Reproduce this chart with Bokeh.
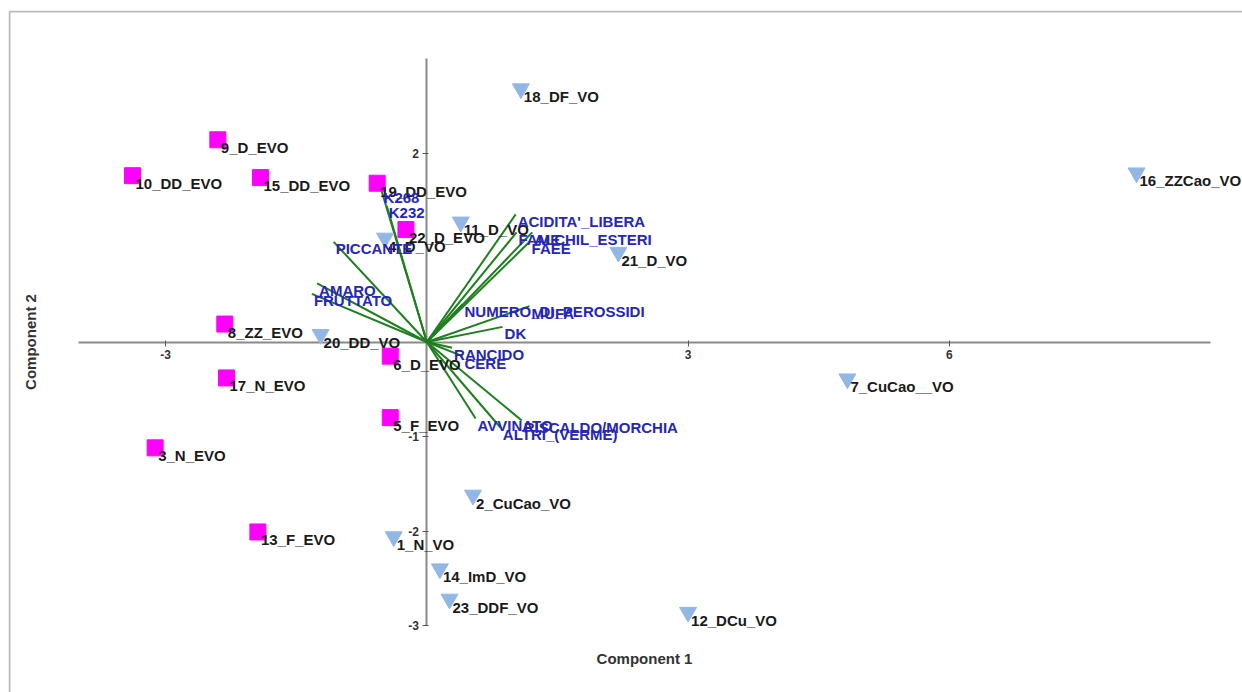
import math
from bokeh.plotting import figure
from bokeh.models import (ColumnDataSource, LabelSet, Label, FixedTicker, LinearAxis,
                          Range1d, BoxAnnotation)
from bokeh.core.properties import value
from bokeh.embed import file_html
from bokeh.resources import INLINE

# ---- data: sample scores (Component 1, Component 2) ----
evo_names = ["10_DD_EVO", "9_D_EVO", "15_DD_EVO", "19_DD_EVO", "22_D_EVO", "8_ZZ_EVO",
             "17_N_EVO", "3_N_EVO", "6_D_EVO", "5_F_EVO", "13_F_EVO"]
evo_x = [-3.38, -2.40, -1.91, -0.57, -0.24, -2.32, -2.30, -3.12, -0.42, -0.42, -1.94]
evo_y = [1.76, 2.14, 1.74, 1.68, 1.19, 0.19, -0.38, -1.12, -0.15, -0.80, -2.01]

vo_names = ["18_DF_VO", "16_ZZCao_VO", "11_D_VO", "4_D_VO", "21_D_VO", "20_DD_VO",
            "7_CuCao__VO", "2_CuCao_VO", "1_N_VO", "14_ImD_VO", "23_DDF_VO", "12_DCu_VO"]
vo_x = [1.08, 8.15, 0.39, -0.48, 2.20, -1.22, 4.83, 0.53, -0.38, 0.15, 0.26, 3.00]
vo_y = [2.68, 1.79, 1.27, 1.10, 0.95, 0.08, -0.39, -1.62, -2.06, -2.40, -2.72, -2.86]

# ---- data: variable loadings ----
var_names = ["K268", "K232", "PICCANTE", "AMARO", "FRUTTATO", "ACIDITA'_LIBERA", "FAME",
             "ALCHIL_ESTERI", "FAEE", "NUMERO_DI_PEROSSIDI", "MUFA", "DK", "RANCIDO",
             "CERE", "AVVINATO", "ALTRI_(VERME)", "RISCALDO/MORCHIA"]
var_x = [-0.52, -0.46, -1.07, -1.26, -1.32, 1.02, 1.03, 1.21, 1.18, 0.41, 1.18, 0.87,
         0.29, 0.41, 0.56, 0.85, 1.09]
var_y = [1.60, 1.44, 1.06, 0.62, 0.51, 1.35, 1.16, 1.16, 1.06, 0.40, 0.38, 0.16,
         -0.06, -0.15, -0.81, -0.91, -0.83]

x_ticks = [-3, 3, 6]
y_ticks = [-3, -2, -1, 2]
x_axis_span = (-4, 9)
y_axis_span = (-3, 3)

FONT = "Liberation Sans"

p = figure(width=1242, height=692,
           x_range=Range1d(-4.804, 9.367), y_range=Range1d(-3.709, 3.508),
           x_axis_location=None, y_axis_location=None,
           output_backend="svg", toolbar_location=None,
           min_border_left=8, min_border_right=0, min_border_top=10, min_border_bottom=0)
p.grid.visible = False
p.outline_line_color = None
p.background_fill_color = "white"
p.border_fill_color = "white"

# axes crossing at the origin
xa = LinearAxis(fixed_location=0, ticker=FixedTicker(ticks=x_ticks), bounds=x_axis_span,
                major_label_overrides={t: str(t) for t in x_ticks})
ya = LinearAxis(fixed_location=0, ticker=FixedTicker(ticks=y_ticks), bounds=y_axis_span,
                major_label_overrides={t: str(t) for t in y_ticks})
for ax in (xa, ya):
    ax.level = "underlay"
    ax.axis_line_color = "#8a8a8a"
    ax.axis_line_width = 2
    ax.major_tick_line_color = "#555555"
    ax.major_tick_in = 2
    ax.major_tick_out = 4
    ax.minor_tick_line_color = None
    ax.major_label_text_font = FONT
    ax.major_label_text_font_style = "bold"
    ax.major_label_text_font_size = "12px"
    ax.major_label_text_color = "#333333"
    ax.major_label_standoff = 4
p.add_layout(xa, "below")
p.add_layout(ya, "left")

# axis titles
p.add_layout(Label(x=sum(x_axis_span) / 2, y=y_axis_span[0], y_offset=-33, text="Component 1",
                   text_align="center", text_baseline="middle", text_font=FONT,
                   text_font_style="bold", text_font_size="15px", text_color="#333333"))
p.add_layout(Label(x=x_axis_span[0], y=sum(y_axis_span) / 2, x_offset=-48, text="Component 2",
                   angle=math.pi / 2, text_align="center", text_baseline="middle",
                   text_font=FONT, text_font_style="bold", text_font_size="15px",
                   text_color="#333333"))

# loading vectors
vsrc = ColumnDataSource(dict(x0=[0] * len(var_x), y0=[0] * len(var_y), x=var_x, y=var_y, name=var_names))
p.segment(x0="x0", y0="y0", x1="x", y1="y", source=vsrc, line_color="#1f7f1f", line_width=2)

# sample markers
esrc = ColumnDataSource(dict(x=evo_x, y=evo_y, name=evo_names))
osrc = ColumnDataSource(dict(x=vo_x, y=vo_y, name=vo_names))
p.scatter("x", "y", source=osrc, marker="inverted_triangle", size=17,
          fill_color="#93b7e5", line_color="#93b7e5")
p.scatter("x", "y", source=esrc, marker="square", size=16,
          fill_color="#ff00ff", line_color="#ff00ff")

for src in (esrc, osrc):
    p.add_layout(LabelSet(x="x", y="y", text="name", source=src, x_offset=3, y_offset=-8,
                          text_baseline="middle", text_align="left", text_font=value(FONT),
                          text_font_style="bold", text_font_size="15px",
                          text_color="#1a1a1a"))

p.add_layout(LabelSet(x="x", y="y", text="name", source=vsrc, x_offset=2, y_offset=-7,
                      text_baseline="middle", text_align="left", text_font=value(FONT),
                      text_font_style="bold", text_font_size="15px",
                      text_color="#2626b8"))

# outer frame of the picture
p.add_layout(BoxAnnotation(left=9, right=1400, top=11, bottom=1000,
                           left_units="canvas", right_units="canvas",
                           top_units="canvas", bottom_units="canvas",
                           fill_alpha=0, line_color="#1a1a1a", line_width=2))

open("out.html", "w").write(file_html(p, INLINE))
